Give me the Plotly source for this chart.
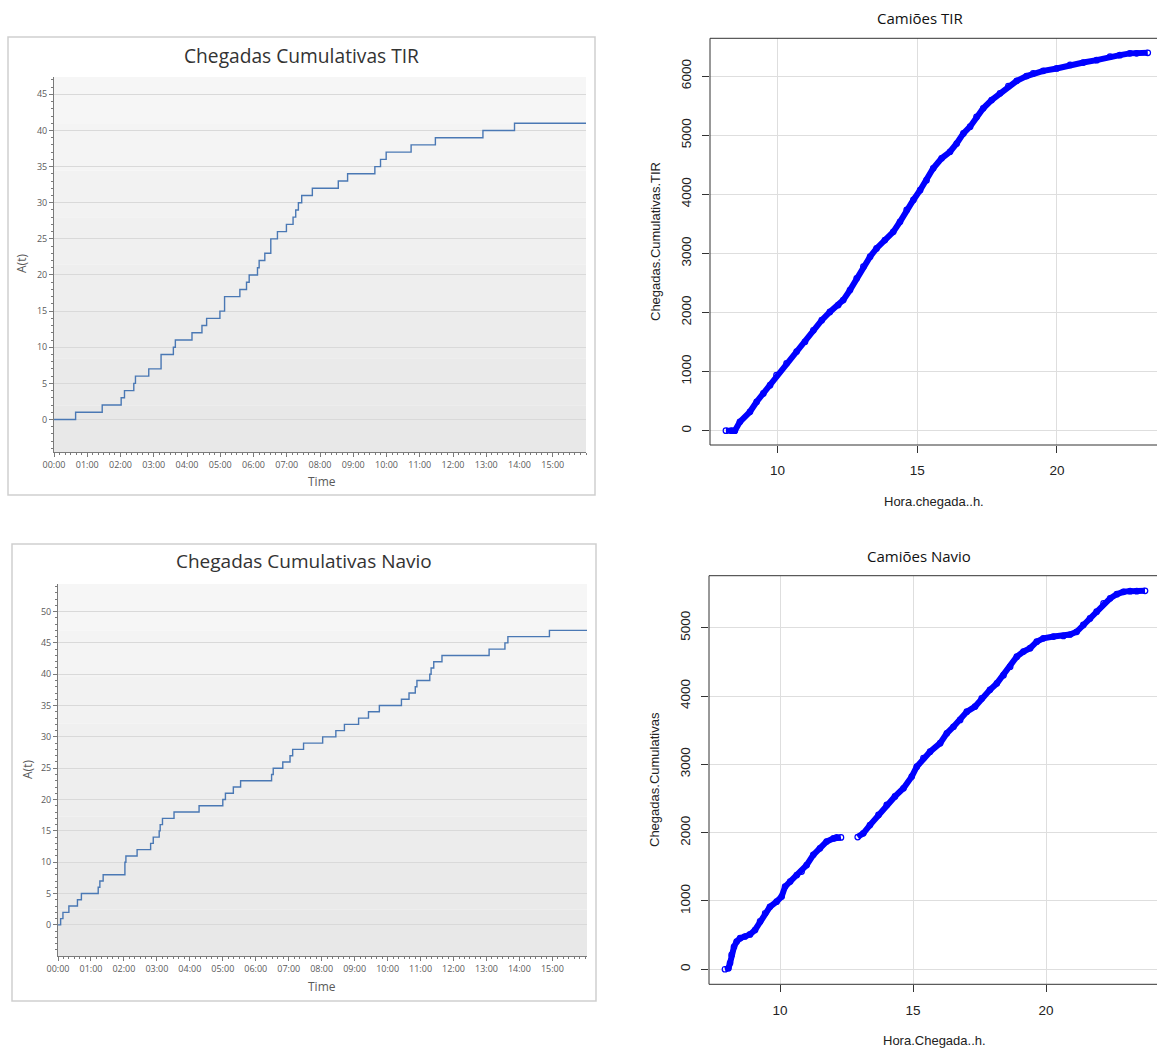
import plotly.graph_objects as go

W, H = 1157, 1048

# ---- simulated cumulative arrivals (step curves), time in hours ----
tir_sim_hours = [0, 0.65, 1.45, 2.02, 2.12, 2.40, 2.45, 2.85, 3.22, 3.59,
                 3.65, 4.15, 4.45, 4.59, 4.99, 5.13, 5.59, 5.79, 5.87, 6.12,
                 6.17, 6.34, 6.52, 6.72, 6.99, 7.19, 7.27, 7.35, 7.45, 7.77,
                 8.55, 8.83, 9.65, 9.82, 9.99, 10.74, 11.47, 12.90, 13.85, 16.0]
tir_sim_count = [0, 1, 2, 3, 4, 5, 6, 7, 9, 10,
                 11, 12, 13, 14, 15, 17, 18, 19, 20, 21,
                 22, 23, 25, 26, 27, 28, 29, 30, 31, 32,
                 33, 34, 35, 36, 37, 38, 39, 40, 41, 41]

navio_sim_hours = [0, 0.08, 0.15, 0.33, 0.59, 0.71, 1.22, 1.27, 1.37, 2.03,
                   2.06, 2.40, 2.81, 2.89, 3.07, 3.10, 3.17, 3.52, 4.28, 5.00,
                   5.08, 5.32, 5.54, 6.48, 6.53, 6.82, 7.04, 7.12, 7.45, 8.03,
                   8.43, 8.69, 9.12, 9.42, 9.75, 10.42, 10.65, 10.84, 10.89, 11.28,
                   11.32, 11.40, 11.65, 13.08, 13.56, 13.65, 14.91, 16.05]
navio_sim_count = [0, 1, 2, 3, 4, 5, 6, 7, 8, 10,
                   11, 12, 13, 14, 15, 16, 17, 18, 19, 20,
                   21, 22, 23, 24, 25, 26, 27, 28, 29, 30,
                   31, 32, 33, 34, 35, 36, 37, 38, 39, 40,
                   41, 42, 43, 44, 45, 46, 47, 47]

# ---- observed truck arrivals (arrival hour vs cumulative count) ----
tir_obs_hour = [8.15, 8.35, 8.47, 8.65, 9.01, 9.25, 9.49, 9.73, 9.96, 10.32,
                10.68, 10.98, 11.28, 11.58, 11.87, 12.17, 12.35, 12.59, 12.83, 13.07,
                13.31, 13.54, 13.84, 14.14, 14.38, 14.62, 14.86, 15.10, 15.33, 15.57,
                15.87, 16.17, 16.41, 16.65, 16.89, 17.12, 17.36, 17.66, 17.96, 18.26,
                18.56, 18.91, 19.15, 19.51, 19.99, 20.47, 20.94, 21.42, 21.90, 22.25,
                22.61, 22.85, 23.25]
tir_obs_cum = [0, 0, 0, 150, 320, 490, 630, 770, 940, 1140,
               1340, 1505, 1700, 1870, 2010, 2125, 2210, 2380, 2580, 2775,
               2945, 3085, 3225, 3365, 3535, 3735, 3905, 4070, 4240, 4440,
               4610, 4720, 4860, 5030, 5145, 5310, 5455, 5595, 5710, 5830,
               5920, 6000, 6045, 6090, 6130, 6190, 6230, 6270, 6330, 6355,
               6385, 6385, 6395]

# morning block, then the afternoon block after the midday pause
navio_obs_hour_am = [7.93, 8.06, 8.12, 8.18, 8.27, 8.37, 8.50, 8.68, 8.87, 9.06,
                     9.25, 9.44, 9.62, 9.87, 10.06, 10.19, 10.38, 10.63, 10.81, 11.00,
                     11.25, 11.50, 11.75, 12.01, 12.13, 12.29]
navio_obs_cum_am = [0, 15, 90, 210, 330, 405, 455, 480, 510, 575,
                    700, 820, 915, 990, 1065, 1210, 1285, 1380, 1430, 1525,
                    1675, 1770, 1870, 1915, 1930, 1930]
navio_obs_hour_pm = [12.92, 13.13, 13.38, 13.70, 14.01, 14.32, 14.64, 14.95, 15.14, 15.39,
                     15.64, 16.02, 16.27, 16.52, 16.77, 17.02, 17.33, 17.58, 17.89, 18.15,
                     18.40, 18.65, 18.90, 19.15, 19.40, 19.65, 19.90, 20.28, 20.65, 20.90,
                     21.15, 21.40, 21.65, 21.90, 22.16, 22.41, 22.66, 22.91, 23.16, 23.41,
                     23.72]
navio_obs_cum_pm = [1935, 1990, 2110, 2260, 2405, 2530, 2650, 2820, 2965, 3090,
                    3185, 3310, 3455, 3550, 3650, 3770, 3845, 3965, 4090, 4185,
                    4305, 4430, 4575, 4650, 4700, 4795, 4845, 4870, 4880, 4900,
                    4940, 5040, 5135, 5235, 5355, 5430, 5490, 5525, 5535, 5535,
                    5540]

hour_ticks = list(range(16))
hour_labels = [f"{h:02d}:00" for h in hour_ticks]


def fx(px):
    return px / W


def fy(px):
    return 1 - px / H


STEP_BLUE = "#4a78b4"
R_BLUE = "#0000ff"
SIM_AXIS = "#7a7a7a"
SIM_TEXT = "#5a5a5a"
SIM_FONT = "Open Sans"
R_FONT = "Liberation Sans"

fig = go.Figure()

# step curves (left column)
fig.add_trace(go.Scatter(x=tir_sim_hours, y=tir_sim_count, mode="lines",
                         line=dict(color=STEP_BLUE, width=1.4, shape="hv"),
                         xaxis="x", yaxis="y", hoverinfo="skip"))
fig.add_trace(go.Scatter(x=navio_sim_hours, y=navio_sim_count, mode="lines",
                         line=dict(color=STEP_BLUE, width=1.4, shape="hv"),
                         xaxis="x3", yaxis="y3", hoverinfo="skip"))

# observed arrival scatters (right column)
obs_marker = dict(symbol="circle-open", size=5.5, color=R_BLUE, line=dict(width=1.2, color=R_BLUE))
for xs, ys, xa, ya in [(tir_obs_hour, tir_obs_cum, "x2", "y2"),
                       (navio_obs_hour_am, navio_obs_cum_am, "x4", "y4"),
                       (navio_obs_hour_pm, navio_obs_cum_pm, "x4", "y4")]:
    fig.add_trace(go.Scatter(x=xs, y=ys, mode="lines+markers",
                             line=dict(color=R_BLUE, width=6), marker=obs_marker,
                             xaxis=xa, yaxis=ya))


def sim_xaxis(domain, anchor, rng):
    return dict(domain=domain, anchor=anchor, range=rng, automargin=False,
                tickmode="array", tickvals=hour_ticks, ticktext=hour_labels,
                ticks="outside", ticklen=4, tickcolor=SIM_AXIS, tickwidth=1,
                showline=True, linecolor=SIM_AXIS, linewidth=1,
                showgrid=False, zeroline=False,
                tickfont=dict(family=SIM_FONT, size=9, color=SIM_TEXT),
                minor=dict(tick0=0, dtick=1 / 6, ticks="outside", ticklen=2,
                           tickcolor=SIM_AXIS, showgrid=False),
                fixedrange=True)


def sim_yaxis(domain, anchor, rng):
    return dict(domain=domain, anchor=anchor, range=rng, automargin=False,
                tick0=0, dtick=5, ticks="outside", ticklen=4, tickcolor=SIM_AXIS,
                showline=True, linecolor=SIM_AXIS, linewidth=1,
                showgrid=True, gridcolor="#d9d9d9", gridwidth=1, zeroline=False,
                tickfont=dict(family=SIM_FONT, size=9, color=SIM_TEXT),
                minor=dict(tick0=0, dtick=1, ticks="outside", ticklen=2,
                           tickcolor=SIM_AXIS, showgrid=False),
                fixedrange=True)


def r_xaxis(domain, anchor, rng):
    return dict(domain=domain, anchor=anchor, range=rng, automargin=False,
                tick0=0, dtick=5, ticks="outside", ticklen=7, tickcolor="#333333",
                showline=False, showgrid=True, gridcolor="#dedede", gridwidth=1,
                zeroline=False, ticklabelstandoff=6,
                tickfont=dict(family=R_FONT, size=13.5, color="#222222"),
                fixedrange=True)


def r_yaxis(domain, anchor, rng):
    return dict(domain=domain, anchor=anchor, range=rng, automargin=False,
                tick0=0, dtick=1000, ticks="outside", ticklen=7, tickcolor="#333333",
                tickangle=-90, showline=False, showgrid=True, gridcolor="#dedede",
                gridwidth=1, zeroline=False, ticklabelstandoff=6,
                tickfont=dict(family=R_FONT, size=13.5, color="#222222"),
                fixedrange=True)


fig.update_layout(
    width=W, height=H,
    margin=dict(l=0, r=0, t=0, b=0, pad=0, autoexpand=False),
    paper_bgcolor="white", plot_bgcolor="rgba(0,0,0,0)",
    showlegend=False,
    xaxis=sim_xaxis([fx(54), fx(586)], "y", [0, 16]),
    yaxis=sim_yaxis([fy(452), fy(77)], "x", [-4.5, 47.4]),
    xaxis3=sim_xaxis([fx(58), fx(587)], "y3", [0, 16.05]),
    yaxis3=sim_yaxis([fy(956), fy(584)], "x3", [-4.97, 54.4]),
    xaxis2=r_xaxis([fx(710), 1], "y2", [7.58, 23.58]),
    yaxis2=r_yaxis([fy(445), fy(38.3)], "x2", [-242, 6640]),
    xaxis4=r_xaxis([fx(709), 1], "y4", [7.33, 24.17]),
    yaxis4=r_yaxis([fy(984.3), fy(575.7)], "x4", [-220, 5761]),
)

shapes = []
# white chart frames with light border around the left charts
for x0, y0, x1, y1 in [(8, 37, 595, 495), (12, 544, 596, 1001)]:
    shapes.append(dict(type="rect", xref="paper", yref="paper",
                       x0=fx(x0), x1=fx(x1), y0=fy(y1), y1=fy(y0),
                       line=dict(color="#cfcfcf", width=1.5), fillcolor="white",
                       layer="below"))
# plotting area of the left charts: soft vertical shading, light at the top
shade = ["#f6f6f6", "#f4f4f4", "#f2f2f2", "#f0f0f0", "#eeeeee", "#ececec",
         "#eaeaea", "#e8e8e8"]
for xa, ya in [("x", "y"), ("x3", "y3")]:
    n = len(shade)
    for i, col in enumerate(shade):
        shapes.append(dict(type="rect", xref=f"{xa} domain", yref=f"{ya} domain",
                           x0=0, x1=1, y0=1 - (i + 1) / n, y1=1 - i / n,
                           line=dict(width=0), fillcolor=col, layer="below"))
# box around the right-hand plots
for xa, ya in [("x2", "y2"), ("x4", "y4")]:
    shapes.append(dict(type="rect", xref=f"{xa} domain", yref=f"{ya} domain",
                       x0=0, x1=1.05, y0=0, y1=1,
                       line=dict(color="#333333", width=1), layer="above"))

annotations = []


def label(text, x, y, size, family, color, angle=0):
    annotations.append(dict(text=text, x=fx(x), y=fy(y), xref="paper", yref="paper",
                            showarrow=False, xanchor="center", yanchor="middle",
                            textangle=angle,
                            font=dict(family=family, size=size, color=color)))


label("Chegadas Cumulativas TIR", 301, 55, 19.2, SIM_FONT, "#333333")
label("Chegadas Cumulativas Navio", 304, 561, 19, SIM_FONT, "#333333")
label("Time", 322, 482, 12, SIM_FONT, SIM_TEXT)
label("Time", 322, 986, 12, SIM_FONT, SIM_TEXT)
label("A(t)", 22, 263, 12, SIM_FONT, SIM_TEXT, -90)
label("A(t)", 27, 770, 12, SIM_FONT, SIM_TEXT, -90)

label("Camiões TIR", 920, 18, 15, SIM_FONT, "#111111")
label("Camiões Navio", 919, 556, 15, SIM_FONT, "#111111")
label("Hora.chegada..h.", 934, 502, 13, R_FONT, "#222222")
label("Hora.Chegada..h.", 934, 1040, 13, R_FONT, "#222222")
label("Chegadas.Cumulativas.TIR", 655, 242, 13, R_FONT, "#222222", -90)
label("Chegadas.Cumulativas", 654, 780, 13, R_FONT, "#222222", -90)

fig.update_layout(shapes=shapes, annotations=annotations)

fig.write_html("out.html", config={"displayModeBar": False})
